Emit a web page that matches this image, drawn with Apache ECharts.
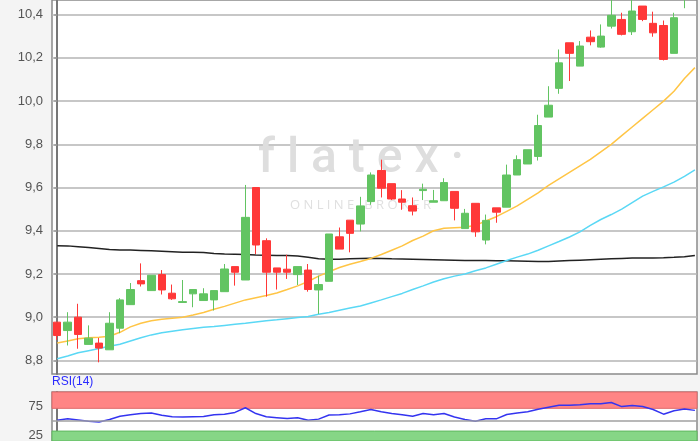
<!DOCTYPE html>
<html>
<head>
<meta charset="utf-8">
<script src="https://cdn.jsdelivr.net/npm/echarts@6/dist/echarts.min.js"></script>
<style>
  html, body { margin: 0; padding: 0; background: #f4f4f4; }
  #chart { width: 700px; height: 441px; }
</style>
</head>
<body>
<div id="chart"></div>
<script>
// Kurs (OHLC) je Handelstag
const openPrices = [8.977, 8.938, 9.0, 8.874, 8.88, 8.849, 8.949, 9.058, 9.169, 9.123,
  9.197, 9.111, 9.068, 9.108, 9.077, 9.08, 9.118, 9.234, 9.172, 9.6,
  9.354, 9.228, 9.222, 9.197, 9.218, 9.126, 9.166, 9.372, 9.449, 9.431,
  9.535, 9.679, 9.618, 9.547, 9.516, 9.586, 9.532, 9.539, 9.582, 9.41,
  9.527, 9.357, 9.506, 9.509, 9.658, 9.709, 9.744, 9.926, 10.059, 10.27,
  10.162, 10.296, 10.25, 10.347, 10.378, 10.321, 10.44, 10.36, 10.35, 10.221,
  10.49];
const closePrices = [8.915, 8.977, 8.92, 8.903, 8.857, 8.972, 9.08, 9.128, 9.154, 9.194,
  9.126, 9.085, 9.072, 9.128, 9.108, 9.123, 9.223, 9.208, 9.462, 9.334,
  9.208, 9.208, 9.208, 9.234, 9.128, 9.151, 9.385, 9.315, 9.388, 9.515,
  9.658, 9.597, 9.547, 9.532, 9.491, 9.592, 9.539, 9.623, 9.504, 9.481,
  9.395, 9.448, 9.486, 9.658, 9.729, 9.775, 9.887, 9.981, 10.177, 10.221,
  10.255, 10.275, 10.301, 10.397, 10.309, 10.417, 10.378, 10.316, 10.193, 10.386,
  10.56];
const lowPrices = [8.895, 8.869, 8.854, 8.874, 8.791, 8.849, 8.926, 9.058, 9.142, 9.123,
  9.105, 9.08, 9.066, 9.046, 9.077, 9.031, 9.118, 9.146, 9.172, 9.292,
  9.095, 9.128, 9.177, 9.149, 9.118, 9.015, 9.166, 9.315, 9.3, 9.397,
  9.52, 9.554, 9.542, 9.497, 9.471, 9.542, 9.532, 9.539, 9.448, 9.41,
  9.372, 9.337, 9.437, 9.509, 9.658, 9.709, 9.725, 9.926, 10.034, 10.093,
  10.162, 10.258, 10.247, 10.336, 10.304, 10.306, 10.37, 10.298, 10.188, 10.221,
  10.43];
const highPrices = [8.977, 9.023, 9.062, 8.962, 8.904, 9.023, 9.088, 9.158, 9.249, 9.194,
  9.218, 9.151, 9.172, 9.128, 9.134, 9.123, 9.246, 9.234, 9.612, 9.6,
  9.365, 9.228, 9.289, 9.234, 9.246, 9.192, 9.385, 9.415, 9.449, 9.557,
  9.67, 9.729, 9.618, 9.588, 9.554, 9.618, 9.589, 9.643, 9.582, 9.501,
  9.527, 9.475, 9.506, 9.706, 9.749, 9.775, 9.937, 10.069, 10.239, 10.27,
  10.278, 10.327, 10.355, 10.48, 10.409, 10.48, 10.44, 10.414, 10.373, 10.409,
  10.58];

// gleitende Durchschnitte
const maShort = [8.88, 8.89, 8.9, 8.905, 8.907, 8.912, 8.93, 8.955, 8.972, 8.983,
  8.99, 8.995, 9.0, 9.01, 9.022, 9.037, 9.05, 9.065, 9.08, 9.09,
  9.1, 9.112, 9.128, 9.145, 9.165, 9.19, 9.21, 9.23, 9.245, 9.258,
  9.272, 9.29, 9.31, 9.33, 9.355, 9.375, 9.4, 9.412, 9.414, 9.416,
  9.425, 9.445, 9.465, 9.49, 9.515, 9.545, 9.575, 9.61, 9.64, 9.67,
  9.7, 9.73, 9.765, 9.8, 9.84, 9.88, 9.92, 9.96, 10.0, 10.046,
  10.105, 10.155];
const maMid = [8.808, 8.82, 8.835, 8.845, 8.855, 8.865, 8.875, 8.89, 8.905, 8.918,
  8.928, 8.935, 8.942, 8.948, 8.953, 8.957, 8.962, 8.967, 8.972, 8.978,
  8.984, 8.988, 8.993, 8.998, 9.003, 9.014, 9.022, 9.032, 9.042, 9.052,
  9.066, 9.08, 9.095, 9.11, 9.128, 9.145, 9.163, 9.178, 9.19, 9.2,
  9.215, 9.228, 9.245, 9.262, 9.278, 9.292, 9.31, 9.33, 9.35, 9.371,
  9.395, 9.425, 9.452, 9.475, 9.5, 9.53, 9.56, 9.582, 9.603, 9.625,
  9.652, 9.682];
const maLong = [9.331, 9.33, 9.326, 9.322, 9.318, 9.313, 9.311, 9.311, 9.309, 9.307,
  9.305, 9.303, 9.3, 9.3, 9.299, 9.295, 9.292, 9.291, 9.29, 9.288,
  9.287, 9.285, 9.285, 9.283, 9.277, 9.27, 9.268, 9.268, 9.27, 9.272,
  9.273, 9.272, 9.27, 9.269, 9.268, 9.267, 9.266, 9.265, 9.264, 9.262,
  9.262, 9.262, 9.261, 9.261, 9.26, 9.259, 9.258, 9.258, 9.26, 9.262,
  9.264, 9.266, 9.268, 9.27, 9.272, 9.274, 9.274, 9.274, 9.275, 9.277,
  9.28, 9.286];

// RSI(14)
const rsiValues = [51.7, 54, 52, 50, 48.5, 53, 58.5, 61, 63, 64,
  60, 57.5, 57, 57.5, 58, 61, 62, 65, 73, 63,
  57.5, 56, 54.5, 56, 51.5, 53.5, 60.5, 60.8, 62.5, 66,
  70, 66, 63, 61, 58.6, 63, 61, 63, 57, 53,
  50, 54, 54, 61.5, 64, 66, 70.5, 74, 77.4, 77.4,
  78, 79.8, 79.8, 82, 75, 77, 75, 70, 62, 68,
  71, 68.5];

const priceTicks = [8.8, 9.0, 9.2, 9.4, 9.6, 9.8, 10.0, 10.2, 10.4];
const priceTickLabels = ['8,8', '9,0', '9,2', '9,4', '9,6', '9,8', '10,0', '10,2', '10,4'];
const rsiTicks = [25, 75];
const rsiOverbought = [72, 100];
const rsiOversold = [16, 33];
const rsiMidline = 50;

const chart = echarts.init(document.getElementById('chart'));

const candleData = openPrices.map((o, i) => [i, o, closePrices[i], lowPrices[i], highPrices[i]]);
const lineData = arr => arr.map((v, i) => [i, v]);

const green = '#62c462';
const red = '#ff3838';

const xCommon = {
  type: 'value',
  min: -0.5,
  max: 61.2,
  show: false,
  splitLine: { show: false }
};

const option = {
  backgroundColor: '#f4f4f4',
  animation: false,
  textStyle: { fontFamily: 'Liberation Sans, Arial, sans-serif' },
  title: {
    text: 'RSI(14)',
    left: 52,
    top: 376,
    padding: 0,
    textStyle: { fontSize: 12, fontWeight: 'normal', color: '#2b2bff' }
  },
  graphic: [
    {
      type: 'text',
      left: 258,
      top: 136,
      z: 1,
      silent: true,
      style: {
        text: 'f l a t e x ·',
        font: '500 48px Roboto, sans-serif',
        fill: '#dedede'
      }
    },
    {
      type: 'text',
      left: 290,
      top: 199,
      z: 1,
      silent: true,
      style: {
        text: 'O N L I N E   B R O K E R',
        font: '13px "Open Sans", sans-serif',
        fill: '#e0e0e0'
      }
    }
  ],
  grid: [
    { left: 52, right: 3, top: 0, height: 374, outerBoundsMode: 'none', show: true, backgroundColor: '#fff', borderColor: '#8a8a8a', borderWidth: 1.5 },
    { left: 52, right: 3, top: 392, height: 49, outerBoundsMode: 'none', show: true, backgroundColor: '#fff', borderColor: '#8a8a8a', borderWidth: 1.5 }
  ],
  xAxis: [
    Object.assign({ gridIndex: 0 }, xCommon),
    Object.assign({ gridIndex: 1 }, xCommon)
  ],
  yAxis: [
    {
      gridIndex: 0,
      type: 'value',
      min: 8.737,
      max: 10.468,
      axisLine: { show: true, lineStyle: { color: '#777', width: 2 } },
      axisTick: { show: true, length: 3, customValues: priceTicks, lineStyle: { color: '#999', width: 1.5 } },
      axisLabel: {
        customValues: priceTicks,
        margin: 9,
        fontSize: 13,
        color: '#555',
        formatter: v => priceTickLabels[priceTicks.findIndex(t => Math.abs(t - v) < 1e-6)] || ''
      },
      splitLine: { show: true, lineStyle: { color: '#b4b4b4', width: 1.5 } }
    },
    {
      gridIndex: 1,
      type: 'value',
      min: 16,
      max: 100,
      axisLine: { show: true, lineStyle: { color: '#777', width: 2 } },
      axisTick: { show: true, length: 3, customValues: rsiTicks, lineStyle: { color: '#999' } },
      axisLabel: { customValues: rsiTicks, margin: 9, fontSize: 13, color: '#555' },
      splitLine: { show: false }
    }
  ],
  series: [
    {
      name: 'Kurs',
      type: 'candlestick',
      xAxisIndex: 0,
      yAxisIndex: 0,
      barWidth: 8,
      encode: { x: 0, y: [1, 2, 3, 4] },
      itemStyle: {
        color: green,
        color0: red,
        borderColor: green,
        borderColor0: red,
        borderWidth: 1
      },
      data: candleData,
      z: 5
    },
    {
      name: 'GD lang',
      type: 'line',
      xAxisIndex: 0,
      yAxisIndex: 0,
      showSymbol: false,
      lineStyle: { color: '#222', width: 1.5 },
      data: lineData(maLong)
    },
    {
      name: 'GD mittel',
      type: 'line',
      xAxisIndex: 0,
      yAxisIndex: 0,
      showSymbol: false,
      lineStyle: { color: '#5ad8f5', width: 1.5 },
      data: lineData(maMid)
    },
    {
      name: 'GD kurz',
      type: 'line',
      xAxisIndex: 0,
      yAxisIndex: 0,
      showSymbol: false,
      lineStyle: { color: '#ffc545', width: 1.5 },
      data: lineData(maShort)
    },
    {
      name: 'RSI',
      type: 'line',
      xAxisIndex: 1,
      yAxisIndex: 1,
      showSymbol: false,
      lineStyle: { color: '#3434f0', width: 1.5 },
      data: lineData(rsiValues),
      markArea: {
        silent: true,
        data: [
          [{ yAxis: rsiOverbought[0], itemStyle: { color: '#ff8585', borderColor: '#e06a6a', borderWidth: 1 } }, { yAxis: rsiOverbought[1] }],
          [{ yAxis: rsiOversold[0], itemStyle: { color: '#86d686', borderColor: '#5fb85f', borderWidth: 1 } }, { yAxis: rsiOversold[1] }]
        ]
      },
      markLine: {
        silent: true,
        symbol: 'none',
        label: { show: false },
        lineStyle: { color: '#a0a0a0', type: 'solid', width: 1.5 },
        data: [{ yAxis: rsiMidline }]
      }
    }
  ]
};

chart.setOption(option);
</script>
</body>
</html>
